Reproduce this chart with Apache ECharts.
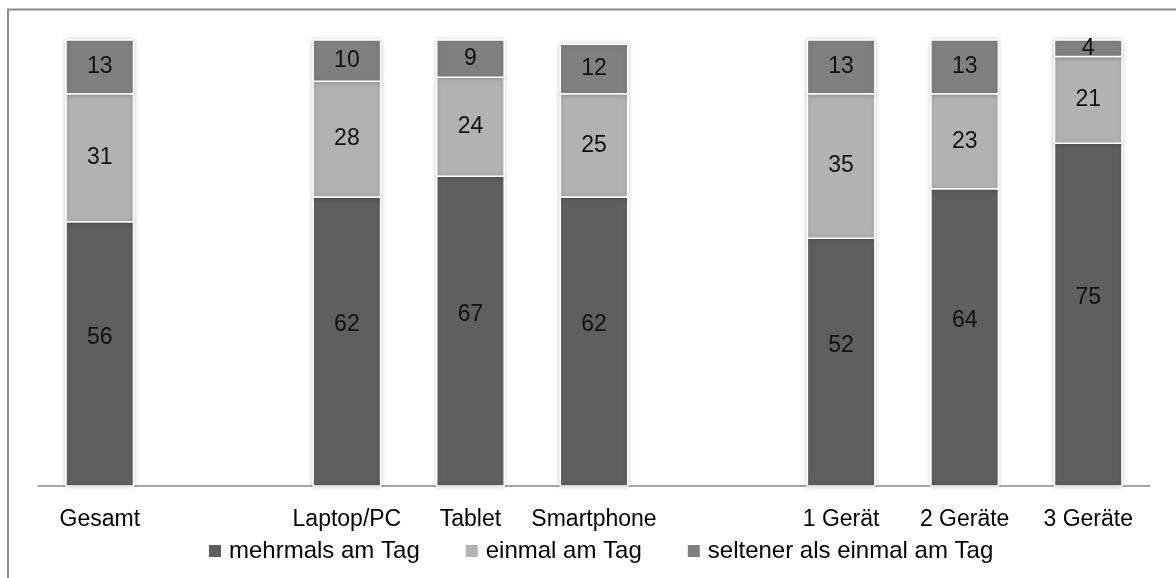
<!DOCTYPE html>
<html>
<head>
<meta charset="utf-8">
<script src="https://cdn.jsdelivr.net/npm/echarts@6/dist/echarts.min.js"></script>
<style>
  html, body { margin: 0; padding: 0; background: #fff; }
  #chart { width: 1176px; height: 578px; }
</style>
</head>
<body>
<div id="chart"></div>
<script>
// Categories (empty entries leave gaps between the groups)
const categories = ['Gesamt', '', 'Laptop/PC', 'Tablet', 'Smartphone', '', '1 Gerät', '2 Geräte', '3 Geräte'];

// Shares in percent, per usage frequency
const mehrmals = [56, null, 62, 67, 62, null, 52, 64, 75];
const einmal   = [31, null, 28, 24, 25, null, 35, 23, 21];
const seltener = [13, null, 10,  9, 12, null, 13, 13,  4];

const seriesNames = ['mehrmals am Tag', 'einmal am Tag', 'seltener als einmal am Tag'];
const seriesValues = [mehrmals, einmal, seltener];
const seriesColors = ['#5f5f5f', '#b2b2b2', '#808080'];

// Value axis range; the axis line sits slightly below zero
const Y_MIN = -8;
const Y_MAX = 100;

const FONT = '"Liberation Sans", Arial, sans-serif';
const FONT_SIZE = 23;

function makeRenderer(s) {
  return function (params, api) {
    const cat = api.value(0);
    const v = api.value(1);
    let base = 0;
    for (let k = 0; k < s; k++) base += seriesValues[k][cat];
    const lo = s === 0 ? Y_MIN : base;
    const hi = base + v;
    const pLo = api.coord([cat, lo]);
    const pHi = api.coord([cat, hi]);
    const w = api.size([1, 0])[0] * 0.546;
    const mid = api.coord([cat, base + v / 2]);
    return {
      type: 'group',
      children: [
        {
          type: 'rect',
          shape: { x: pLo[0] - w / 2, y: pHi[1], width: w, height: pLo[1] - pHi[1] },
          style: {
            fill: api.visual('color'),
            stroke: '#ffffff',
            lineWidth: 1.5,
            shadowBlur: 5,
            shadowColor: 'rgba(0,0,0,0.18)'
          }
        },
        {
          type: 'text',
          x: pLo[0],
          y: mid[1],
          z2: 10,
          style: {
            text: String(v),
            fill: '#111',
            fontSize: FONT_SIZE,
            fontFamily: FONT,
            align: 'center',
            verticalAlign: 'middle'
          }
        }
      ]
    };
  };
}

const series = seriesNames.map((name, s) => ({
  name: name,
  type: 'custom',
  itemStyle: { color: seriesColors[s] },
  renderItem: makeRenderer(s),
  encode: { x: 0, y: 1 },
  data: seriesValues[s]
    .map((v, i) => (v === null ? null : [i, v]))
    .filter(d => d !== null)
}));

const chart = echarts.init(document.getElementById('chart'), null, { renderer: 'canvas' });
chart.setOption({
  animation: false,
  backgroundColor: '#ffffff',
  grid: { left: 38, right: 26, top: 40, bottom: 92, containLabel: false },
  xAxis: {
    type: 'category',
    data: categories,
    boundaryGap: true,
    axisLine: { onZero: false, lineStyle: { color: '#8a8a8a', width: 1.5 } },
    axisTick: { show: false },
    axisLabel: { color: '#000', fontSize: FONT_SIZE, fontFamily: FONT, margin: 22, interval: 0 }
  },
  yAxis: {
    type: 'value',
    min: Y_MIN,
    max: Y_MAX,
    show: false,
    splitLine: { show: false }
  },
  legend: {
    data: seriesNames,
    left: 204,
    top: 534,
    icon: 'rect',
    itemWidth: 12,
    itemHeight: 12,
    itemGap: 46,
    textStyle: { color: '#000', fontSize: 24, fontFamily: FONT, padding: [0, 0, 0, 3] }
  },
  graphic: [
    {
      type: 'polyline',
      silent: true,
      shape: { points: [[8, 600], [8, 9.5], [1200, 9.5]] },
      style: { stroke: '#8c8c8c', lineWidth: 2, fill: null }
    }
  ],
  series: series
});
</script>
</body>
</html>
